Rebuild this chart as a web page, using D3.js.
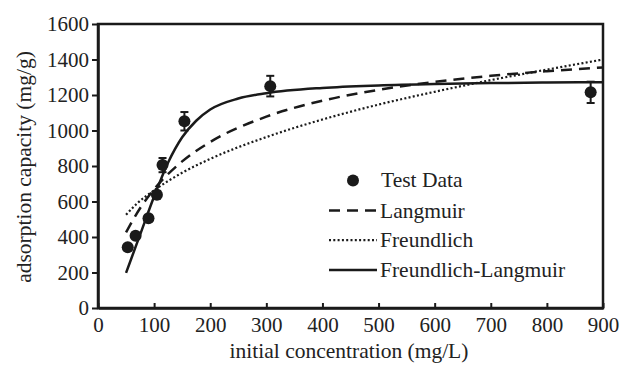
<!DOCTYPE html>
<html>
<head>
<meta charset="utf-8">
<script src="https://cdn.jsdelivr.net/npm/d3@7"></script>
<style>
  body { margin: 0; background: #fff; }
</style>
</head>
<body>
<svg id="chart" width="620" height="366"></svg>
<script>
// measured points (concentration mg/L, capacity mg/g)
const testX = [53, 67, 90, 105, 115, 154, 307, 878];
const testY = [342, 407, 505, 638, 805, 1052, 1250, 1215];
const testErr = [0, 0, 0, 22, 40, 52, 58, 60];

// fitted curves
const langX = [50, 75, 100, 150, 200, 300, 400, 500, 600, 700, 800, 900];
const langY = [426, 562, 669, 826, 935, 1078, 1168, 1229, 1274, 1308, 1334, 1355];

const freuX = [50, 70, 100, 150, 200, 300, 400, 500, 600, 700, 800, 900];
const freuY = [525, 590, 663, 762, 840, 963, 1062, 1146, 1218, 1284, 1343, 1400];

const flX = [50, 75, 100, 125, 150, 175, 200, 250, 300, 400, 500, 600, 700, 800, 900];
const flY = [198, 413, 628, 820, 962, 1055, 1118, 1180, 1210, 1240, 1254, 1262, 1267, 1270, 1272];

const xTicks = [0, 100, 200, 300, 400, 500, 600, 700, 800, 900];
const yTicks = [0, 200, 400, 600, 800, 1000, 1200, 1400, 1600];

const plotLeft = 98, plotRight = 603, plotTop = 24, plotBottom = 308;
const FONT = "'Liberation Serif'";
const INK = "#1a1a1a";

const svg = d3.select("#chart");

const x = d3.scaleLinear().domain([0, 900]).range([plotLeft, plotRight]);
const y = d3.scaleLinear().domain([0, 1600]).range([plotBottom, plotTop]);

// frame
svg.append("rect")
  .attr("x", plotLeft).attr("y", plotTop)
  .attr("width", plotRight - plotLeft).attr("height", plotBottom - plotTop)
  .attr("fill", "none").attr("stroke", INK).attr("stroke-width", 2.5);

// x axis, ticks point inward
const xAxis = svg.append("g")
  .attr("transform", "translate(0," + plotBottom + ")")
  .call(d3.axisBottom(x).tickValues(xTicks).tickFormat(d3.format("d"))
    .tickSizeInner(-5).tickSizeOuter(0).tickPadding(9));
xAxis.attr("font-family", null).attr("font-size", null);
xAxis.select(".domain").attr("stroke", INK).attr("stroke-width", 2.5);
xAxis.selectAll(".tick line").attr("stroke", INK).attr("stroke-width", 2);
xAxis.selectAll("text")
  .style("font-family", FONT).style("font-size", "21px").attr("fill", "#222");

// y axis, ticks point outward
const yAxis = svg.append("g")
  .attr("transform", "translate(" + plotLeft + ",0)")
  .call(d3.axisLeft(y).tickValues(yTicks).tickFormat(d3.format("d"))
    .tickSizeInner(6).tickSizeOuter(0).tickPadding(3));
yAxis.attr("font-family", null).attr("font-size", null);
yAxis.select(".domain").attr("stroke", INK).attr("stroke-width", 2.5);
yAxis.selectAll(".tick line").attr("stroke", INK).attr("stroke-width", 2);
yAxis.selectAll("text")
  .style("font-family", FONT).style("font-size", "21px").attr("fill", "#222");

// axis titles
svg.append("text")
  .attr("x", 349).attr("y", 358)
  .attr("text-anchor", "middle")
  .style("font-family", FONT).style("font-size", "21.5px").attr("fill", "#222")
  .text("initial concentration (mg/L)");

svg.append("text")
  .attr("transform", "translate(31,167) rotate(-90)")
  .attr("text-anchor", "middle")
  .style("font-family", FONT).style("font-size", "21.5px").attr("fill", "#222")
  .text("adsorption capacity (mg/g)");

const line = d3.line().x(d => x(d[0])).y(d => y(d[1])).curve(d3.curveMonotoneX);

const curves = [
  { name: "Langmuir", xs: langX, ys: langY, dash: "11,7", width: 2.5 },
  { name: "Freundlich", xs: freuX, ys: freuY, dash: "2,2.3", width: 2.2 },
  { name: "Freundlich-Langmuir", xs: flX, ys: flY, dash: null, width: 2.5 }
];

curves.forEach(c => {
  svg.append("path")
    .datum(c.xs.map((v, i) => [v, c.ys[i]]))
    .attr("d", line)
    .attr("fill", "none")
    .attr("stroke", INK)
    .attr("stroke-width", c.width)
    .attr("stroke-dasharray", c.dash);
});

// error bars
const pts = testX.map((v, i) => ({ x: v, y: testY[i], e: testErr[i] }));
const bars = svg.append("g").attr("stroke", INK).attr("stroke-width", 2);
pts.filter(d => d.e > 0).forEach(d => {
  bars.append("line").attr("x1", x(d.x)).attr("x2", x(d.x))
    .attr("y1", y(d.y - d.e)).attr("y2", y(d.y + d.e));
  [d.y - d.e, d.y + d.e].forEach(v => {
    bars.append("line").attr("x1", x(d.x) - 4).attr("x2", x(d.x) + 4)
      .attr("y1", y(v)).attr("y2", y(v));
  });
});

svg.append("g").selectAll("circle")
  .data(pts)
  .enter()
  .append("circle")
  .attr("cx", d => x(d.x))
  .attr("cy", d => y(d.y))
  .attr("r", 6)
  .attr("fill", INK);

// legend
const legend = svg.append("g");
legend.append("circle").attr("cx", 353).attr("cy", 180.5).attr("r", 6).attr("fill", INK);
legend.append("text").attr("x", 381).attr("y", 187)
  .style("font-family", FONT).style("font-size", "21.5px").attr("fill", "#222")
  .text("Test Data");

curves.forEach((c, i) => {
  const ly = 210.5 + i * 29.7;
  legend.append("line")
    .attr("x1", 329).attr("x2", 377).attr("y1", ly).attr("y2", ly)
    .attr("stroke", INK).attr("stroke-width", c.width)
    .attr("stroke-dasharray", c.dash);
  legend.append("text").attr("x", 380).attr("y", ly + 7)
    .style("font-family", FONT).style("font-size", "21.5px").attr("fill", "#222")
    .text(c.name);
});
</script>
</body>
</html>
